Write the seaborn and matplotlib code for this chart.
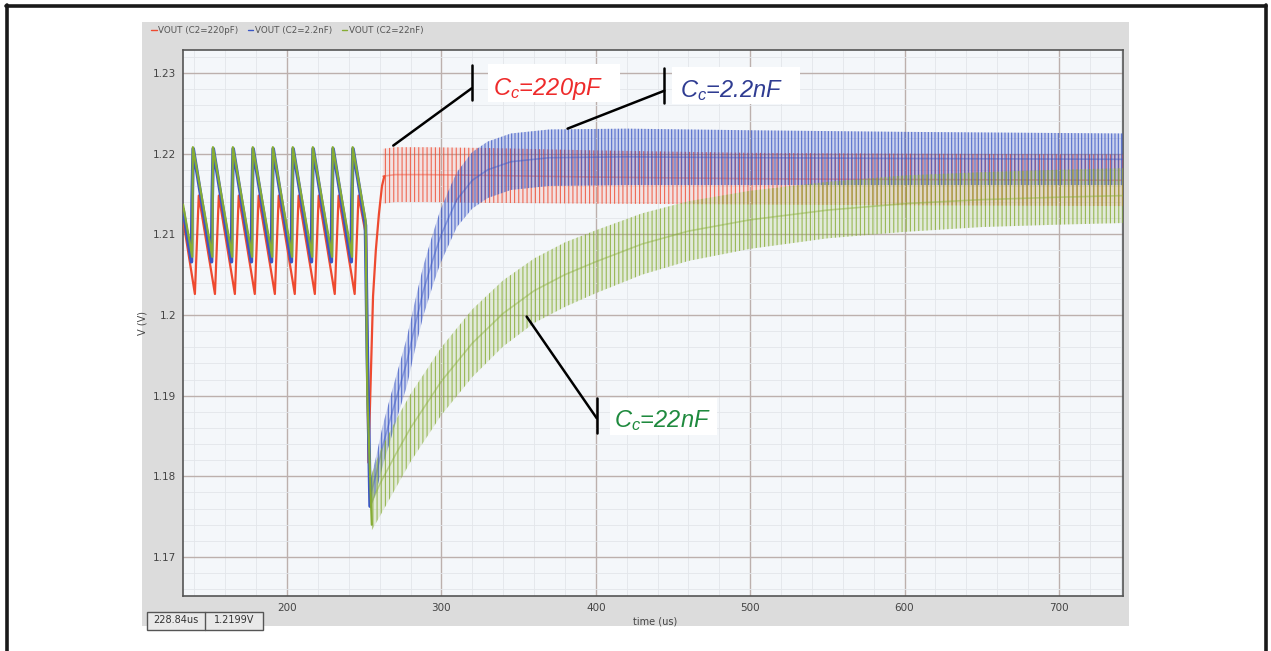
import numpy as np
import pandas as pd
import matplotlib
matplotlib.use("Agg")
import matplotlib.pyplot as plt
from matplotlib.patches import Rectangle
from matplotlib.lines import Line2D
import seaborn as sns

W, H = 1271, 651

SERIES = ["VOUT (C2=220pF)", "VOUT (C2=2.2nF)", "VOUT (C2=22nF)"]
COLORS = ["#ee4a30", "#3a56c4", "#86ac34"]
LABELS = [r"$C_c$=220pF", r"$C_c$=2.2nF", r"$C_c$=22nF"]
LABEL_COLORS = ["#ee2b2b", "#2f3c92", "#1f8a3e"]

# ---- pre-step sawtooth + load-step plunge (time us, volts) ----
red_pre_t = [132.6, 140.3, 142.8, 153.3, 155.8, 166.2, 168.7, 179.1, 181.6,
             192.1, 194.6, 205.0, 207.5, 218.0, 220.5, 230.9, 233.4, 243.8,
             246.3, 251.2, 252.7, 255.7, 257.5, 259.5, 261.5, 263.0]
red_pre_v = [1.2119, 1.2026, 1.2148, 1.2026, 1.2148, 1.2026, 1.2148, 1.2026, 1.2148,
             1.2026, 1.2148, 1.2026, 1.2148, 1.2026, 1.2148, 1.2026, 1.2148, 1.2026,
             1.2148, 1.2098, 1.1817, 1.2023, 1.2080, 1.2125, 1.2160, 1.2172]

blue_pre_t = [132.6, 138.1, 138.5, 139.2, 151.1, 151.5, 152.2, 164.0, 164.4, 165.1,
              176.9, 177.3, 178.0, 189.9, 190.3, 191.0, 202.8, 203.2, 203.9,
              215.8, 216.2, 216.9, 228.7, 229.1, 229.8, 241.6, 242.0, 242.7,
              250.8, 252.0, 253.8]
blue_pre_v = [1.2131, 1.2066, 1.2143, 1.2206, 1.2066, 1.2143, 1.2206, 1.2066, 1.2143, 1.2206,
              1.2066, 1.2143, 1.2206, 1.2066, 1.2143, 1.2206, 1.2066, 1.2143, 1.2206,
              1.2066, 1.2143, 1.2206, 1.2066, 1.2143, 1.2206, 1.2066, 1.2143, 1.2206,
              1.2111, 1.1950, 1.1763]

green_pre_t = [132.6, 138.6, 139.0, 151.6, 152.0, 164.5, 164.9, 177.4, 177.8,
               190.4, 190.8, 203.3, 203.7, 216.3, 216.7, 229.2, 229.6, 242.1, 242.5,
               250.9, 252.0, 254.9]
green_pre_v = [1.2137, 1.2072, 1.2208, 1.2072, 1.2208, 1.2072, 1.2208, 1.2072, 1.2208,
               1.2072, 1.2208, 1.2072, 1.2208, 1.2072, 1.2208, 1.2072, 1.2208, 1.2072, 1.2208,
               1.2117, 1.1900, 1.1740]

# ---- post-step ripple bands: centre and half ripple amplitude ----
red_band_t = [262.0, 270.0, 290.0, 330.0, 400.0, 500.0, 600.0, 741.5]
red_band_mid = [1.2172, 1.2174, 1.2174, 1.2173, 1.2171, 1.2169, 1.2168, 1.2167]
red_band_half = [0.0034, 0.0034, 0.0034, 0.0034, 0.0033, 0.0032, 0.0032, 0.0032]

blue_band_t = [253.8, 258.0, 262.0, 266.7, 272.0, 277.5, 283.0, 288.3, 294.0, 299.1,
               305.0, 310.0, 320.0, 330.0, 345.0, 370.0, 420.0, 500.0, 600.0, 741.5]
blue_band_mid = [1.1775, 1.1805, 1.1838, 1.1870, 1.1905, 1.1941, 1.1988, 1.2030, 1.2066, 1.2096,
                 1.2122, 1.2143, 1.2167, 1.2180, 1.2190, 1.2195, 1.2196, 1.2195, 1.2194, 1.2193]
blue_band_half = [0.0018, 0.0022, 0.0025, 0.0027, 0.0028, 0.0030, 0.0030, 0.0031, 0.0032, 0.0033,
                  0.0034, 0.0034, 0.0035, 0.0035, 0.0035, 0.0035, 0.0035, 0.0034, 0.0033, 0.0032]

green_band_t = [254.9, 260.0, 270.0, 280.0, 300.0, 320.0, 340.0, 360.0, 380.0, 400.0,
                430.0, 460.0, 500.0, 550.0, 600.0, 650.0, 700.0, 741.5]
green_band_mid = [1.1768, 1.1790, 1.1826, 1.1860, 1.1918, 1.1965, 1.2002, 1.2030, 1.2050, 1.2066,
                  1.2088, 1.2104, 1.2118, 1.2130, 1.2138, 1.2143, 1.2146, 1.2148]
green_band_half = [0.0035, 0.0040, 0.0042, 0.0042, 0.0042, 0.0042, 0.0041, 0.0040, 0.0040, 0.0039,
                   0.0038, 0.0037, 0.0036, 0.0035, 0.0035, 0.0034, 0.0034, 0.0034]

X_MAJOR = [200, 300, 400, 500, 600, 700]
Y_MAJOR = [1.17, 1.18, 1.19, 1.20, 1.21, 1.22, 1.23]
Y_TICKLABELS = ["1.17", "1.18", "1.19", "1.2", "1.21", "1.22", "1.23"]

sns.set_style("white")
plt.rcParams["font.family"] = ["DejaVu Sans"]
plt.rcParams["hatch.linewidth"] = 0.8
plt.rcParams["mathtext.fontset"] = "custom"
plt.rcParams["mathtext.it"] = "Liberation Sans:italic"
plt.rcParams["mathtext.rm"] = "Liberation Sans:italic"


def fx(px):
    return px / W


def fy(py):
    return 1 - py / H


fig = plt.figure(figsize=(W / 100, H / 100), dpi=100)
fig.patch.set_facecolor("white")

# gray instrument panel and outer frame
fig.patches.append(Rectangle((fx(142), fy(626)), fx(1129) - fx(142), fy(22) - fy(626),
                             transform=fig.transFigure, facecolor="#dcdcdc",
                             edgecolor="none", zorder=-5))
for xs, ys in [((6, 1266), (5.5, 5.5)), ((6.5, 6.5), (5, 651)), ((1266, 1266), (5, 651))]:
    fig.add_artist(Line2D([fx(x) for x in xs], [fy(y) for y in ys],
                          transform=fig.transFigure, color="#1a1a1a", lw=2.6))

ax = fig.add_axes([fx(183), fy(596), fx(1123) - fx(183), fy(50) - fy(596)])
ax.set_facecolor("#f4f7fa")

bands = [
    (red_band_t, red_band_mid, red_band_half, "||||", 0.12),
    (blue_band_t, blue_band_mid, blue_band_half, "|||||", 0.22),
    (green_band_t, green_band_mid, green_band_half, "||||", 0.16),
]
pres = [(red_pre_t, red_pre_v), (blue_pre_t, blue_pre_v), (green_pre_t, green_pre_v)]

for i, (name, col) in enumerate(zip(SERIES, COLORS)):
    t, mid, half, hatch, fill_alpha = bands[i]
    mid = np.array(mid)
    half = np.array(half)
    ax.fill_between(t, mid - half, mid + half,
                    facecolor=matplotlib.colors.to_rgba(col, fill_alpha),
                    edgecolor=matplotlib.colors.to_rgba(col, 0.8), hatch=hatch,
                    linewidth=0, zorder=3 + i)
    sns.lineplot(x=t, y=mid, ax=ax, color=col, lw=1.2, alpha=0.45,
                 sort=False, estimator=None, zorder=3 + i)
    pt, pv = pres[i]
    sns.lineplot(x=pt, y=pv, ax=ax, color=col, lw=1.6 if i != 1 else 2.6,
                 sort=False, estimator=None, zorder=6 + i, label=name)

leg = ax.get_legend()
if leg is not None:
    leg.remove()

ax.set_xlim(132.6, 741.5)
ax.set_ylim(1.16516, 1.23285)
ax.set_xticks(X_MAJOR)
ax.set_yticks(Y_MAJOR)
ax.set_yticklabels(Y_TICKLABELS)
ax.set_xticks(np.arange(140, 741, 20), minor=True)
ax.set_yticks(np.arange(1.166, 1.233, 0.002), minor=True)
ax.grid(True, which="major", color="#bcb0ad", lw=1.0)
ax.grid(True, which="minor", color="#e3e6ea", lw=0.6)
ax.set_axisbelow(True)
ax.tick_params(which="major", direction="out", length=3, color="#777777",
               labelsize=7.5, labelcolor="#444444", pad=2)
ax.tick_params(which="minor", direction="out", length=2, color="#999999")
for s in ax.spines.values():
    s.set_color("#555555")
    s.set_linewidth(1.2)
ax.set_xlabel("time (us)", fontsize=7, color="#444444", labelpad=2)
ax.set_ylabel("V (V)", fontsize=7, color="#444444", labelpad=4)
ax.xaxis.set_label_coords((655 - 183) / 940, -(617 - 596) / 546)

proxies = [Line2D([], [], color=c, lw=1.0) for c in COLORS]
fig.legend(proxies, SERIES, loc="upper left", bbox_to_anchor=(fx(146), fy(21)),
           ncol=3, frameon=False, fontsize=6.3, handlelength=0.6, handletextpad=0.2,
           columnspacing=1.1, labelcolor="#555555", borderaxespad=0.2)

# callouts
callouts = [
    ((319.6, 1.2310), (319.6, 1.2267), (319.6, 1.2281), (268.8, 1.2210)),
    ((444.4, 1.2306), (444.4, 1.2263), (444.4, 1.2278), (381.7, 1.2231)),
    ((400.6, 1.1897), (400.6, 1.1854), (400.6, 1.1872), (355.2, 1.1998)),
]
for a, b, c, d in callouts:
    ax.plot([a[0], b[0]], [a[1], b[1]], color="black", lw=1.8, zorder=20, clip_on=False)
    ax.plot([c[0], d[0]], [c[1], d[1]], color="black", lw=1.8, zorder=20, clip_on=False)

boxes = [(488, 64, 620, 102, 493, 95), (672, 67, 800, 104, 680, 97), (610, 398, 717, 435, 614, 427)]
for (x0, y0, x1, y1, tx, ty), lab, col in zip(boxes, LABELS, LABEL_COLORS):
    fig.patches.append(Rectangle((fx(x0), fy(y1)), fx(x1) - fx(x0), fy(y0) - fy(y1),
                                 transform=fig.transFigure, facecolor="white",
                                 edgecolor="none", zorder=30))
    fig.text(fx(tx), fy(ty), lab, color=col, fontsize=17, fontstyle="italic",
             family="Liberation Sans", ha="left", va="baseline", zorder=31)

# cursor readout
fig.patches.append(Rectangle((fx(147), fy(630)), fx(263) - fx(147), fy(612) - fy(630),
                             transform=fig.transFigure, facecolor="#e9e9e9",
                             edgecolor="#555555", lw=1.0, zorder=5))
fig.add_artist(Line2D([fx(205), fx(205)], [fy(612), fy(630)], transform=fig.transFigure,
                      color="#555555", lw=1.0, zorder=6))
fig.text(fx(176), fy(620), "228.84us", fontsize=7, color="#333333", ha="center", va="center",
         zorder=7)
fig.text(fx(234), fy(620), "1.2199V", fontsize=7, color="#333333", ha="center", va="center",
         zorder=7)

fig.savefig("out.png", dpi=100)
